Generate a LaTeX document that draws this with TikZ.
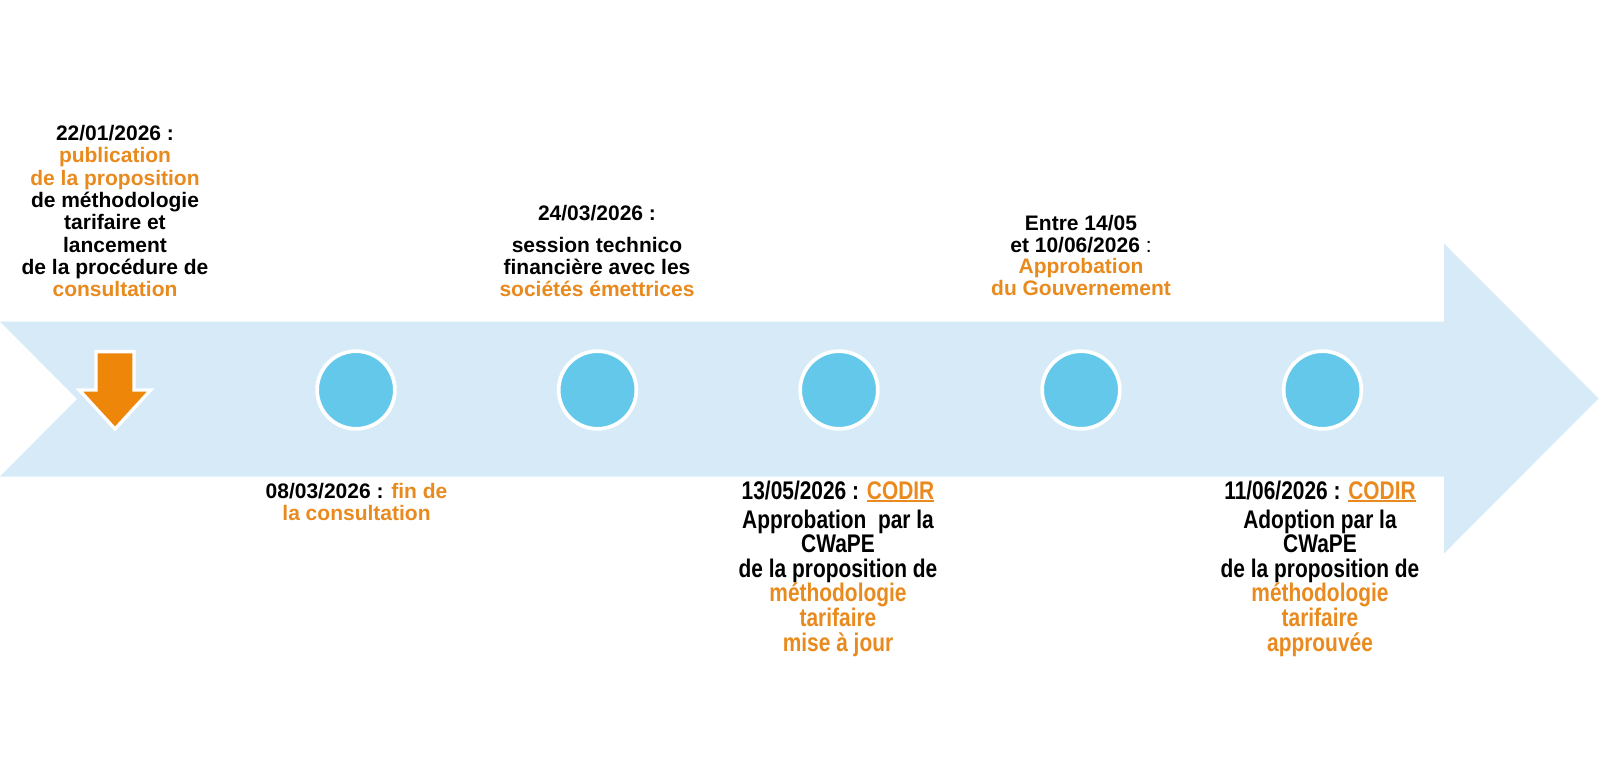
\documentclass[tikz,border=0pt]{standalone}
\usepackage{fontspec}
\setmainfont{Liberation Sans}
\newfontfamily\narrowfont[FakeStretch=0.82]{Liberation Sans}
\definecolor{arrowblue}{RGB}{214,235,247}
\definecolor{dotblue}{RGB}{100,200,234}
\definecolor{orangeA}{RGB}{238,134,10}
\definecolor{orangeT}{RGB}{233,138,30}
\newcommand{\myul}[1]{\setbox0\hbox{#1}\rlap{\rule[-3.2pt]{\wd0}{1.8pt}}\box0}
\newcommand{\orT}[1]{\textcolor{orangeT}{#1}}
\tikzset{
  txt/.style={inner sep=0pt, anchor=base, font=\fontsize{21}{22}\selectfont\bfseries},
  ntxt/.style={inner sep=0pt, anchor=base, font=\fontsize{25.5}{25}\selectfont\narrowfont\bfseries},
  dot/.style={circle, fill=dotblue, draw=white, line width=3.7pt, minimum size=77.7pt, inner sep=0pt}
}
\begin{document}
\begin{tikzpicture}[x=1pt,y=-1pt]
\useasboundingbox (0,0) rectangle (1600,781);
% big arrow
\fill[arrowblue] (0,321.5) -- (1444,321.5) -- (1444,243.5) -- (1598.5,398.5) -- (1444,553.5) -- (1444,476.5) -- (0,476.5) -- (77,399) -- cycle;
% orange down arrow
\filldraw[fill=orangeA, draw=white, line width=3.3pt, line join=miter]
  (96,351.6) -- (134,351.6) -- (134,390) -- (150.7,390) -- (115,429) -- (79.3,390) -- (96,390) -- cycle;
% circles
\node[dot] (c1) at (356,390) {};
\node[dot] (c2) at (597.5,390) {};
\node[dot] (c3) at (839,390) {};
\node[dot] (c4) at (1081,390) {};
\node[dot] (c5) at (1322.5,390) {};
% block 1
\node[txt] (a1) at (115,140.5) {22/01/2026 :};
\node[txt] (a2) at (115,162.8) {\orT{publication}};
\node[txt] (a3) at (115,185.1) {\orT{de la proposition}};
\node[txt] (a4) at (115,207.4) {de méthodologie};
\node[txt] (a5) at (115,229.7) {tarifaire et};
\node[txt] (a6) at (115,252.0) {lancement};
\node[txt] (a7) at (115,274.3) {de la procédure de};
\node[txt] (a8) at (115,296.6) {\orT{consultation}};
% block 2
\node[txt] (b1) at (597,220.5) {24/03/2026 :};
\node[txt] (b2) at (597,252.0) {session technico};
\node[txt] (b3) at (597,274.3) {financière avec les};
\node[txt] (b4) at (597,296.6) {\orT{sociétés émettrices}};
% block 3
\node[txt] (d1) at (356.5,498.7) {08/03/2026 : \orT{fin de}};
\node[txt] (d2) at (356.5,520.7) {\orT{la consultation}};
% block 4
\node[txt] (e1) at (1081,230.3) {Entre 14/05};
\node[txt] (e2) at (1081,252.0) {et 10/06/2026\mdseries{} :};
\node[txt] (e3) at (1081,273.7) {\orT{Approbation}};
\node[txt] (e4) at (1081,295.3) {\orT{du Gouvernement}};
% block 5
\node[ntxt] (f1) at (838,499) {13/05/2026 : \textcolor{orangeT}{\myul{CODIR}}};
\node[ntxt] (f2) at (838,528.5) {Approbation\ \ par la};
\node[ntxt] (f3) at (838,552.5) {CWaPE};
\node[ntxt] (f4) at (838,577.5) {de la proposition de};
\node[ntxt] (f5) at (838,601.5) {\orT{méthodologie}};
\node[ntxt] (f6) at (838,626.5) {\orT{tarifaire}};
\node[ntxt] (f7) at (838,651) {\orT{mise à jour}};
% block 6
\node[ntxt] (g1) at (1320,499) {11/06/2026 : \textcolor{orangeT}{\myul{CODIR}}};
\node[ntxt] (g2) at (1320,528.5) {Adoption par la};
\node[ntxt] (g3) at (1320,552.5) {CWaPE};
\node[ntxt] (g4) at (1320,577.5) {de la proposition de};
\node[ntxt] (g5) at (1320,601.5) {\orT{méthodologie}};
\node[ntxt] (g6) at (1320,626.5) {\orT{tarifaire}};
\node[ntxt] (g7) at (1320,651) {\orT{approuvée}};
\end{tikzpicture}
\end{document}
